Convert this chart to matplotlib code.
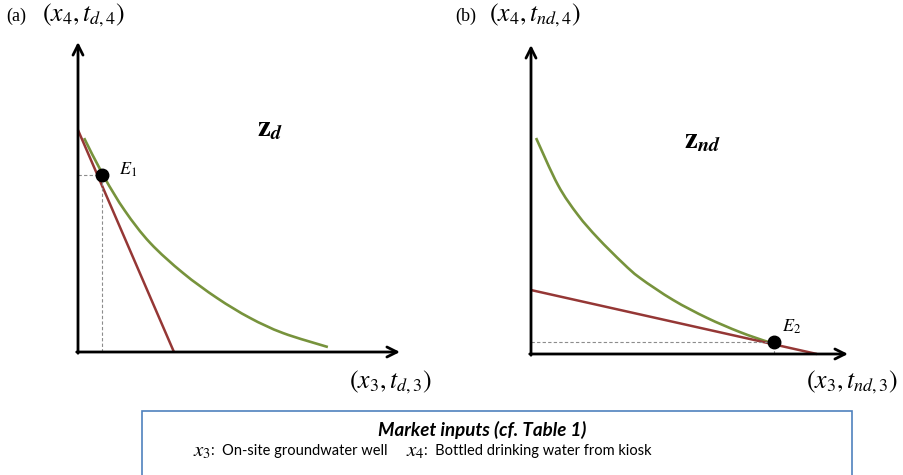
import matplotlib
matplotlib.use("Agg")
import matplotlib.pyplot as plt
from matplotlib.patches import Rectangle, PathPatch
from matplotlib.path import Path

# panel (a): dependent choice z_d
iso_a_x = [0.19, 0.81, 1.46, 2.24, 3.26, 4.32, 5.34, 6.37, 7.76]
iso_a_y = [6.90, 5.65, 4.55, 3.52, 2.55, 1.74, 1.10, 0.61, 0.16]
budget_a_x = [0.0, 2.98]
budget_a_y = [7.16, 0.0]
e1 = (0.75, 5.70)

# panel (b): non-dependent choice z_nd
iso_b_x = [0.16, 0.85, 1.48, 2.11, 2.90, 3.44, 4.48, 5.55, 6.59, 7.48, 7.67]
iso_b_y = [6.99, 5.47, 4.50, 3.75, 2.94, 2.46, 1.75, 1.17, 0.71, 0.39, 0.36]
budget_b_x = [0.0, 9.02]
budget_b_y = [2.07, 0.0]
e2 = (7.67, 0.38)

GREEN = "#77933C"
RED = "#953735"
GREY = "#8c8c8c"

plt.rcParams["mathtext.fontset"] = "stix"

W, H = 904, 475
fig = plt.figure(figsize=(W / 100, H / 100), dpi=100)


def px(x, y):
    return x / W, 1 - y / H


def smooth_path(xs, ys):
    # catmull-rom through the read points, as bezier segments
    pts = list(zip(xs, ys))
    verts = [pts[0]]
    codes = [Path.MOVETO]
    for i in range(len(pts) - 1):
        p0 = pts[i - 1] if i > 0 else pts[i]
        p1 = pts[i]
        p2 = pts[i + 1]
        p3 = pts[i + 2] if i + 2 < len(pts) else pts[i + 1]
        c1 = (p1[0] + (p2[0] - p0[0]) / 6, p1[1] + (p2[1] - p0[1]) / 6)
        c2 = (p2[0] - (p3[0] - p1[0]) / 6, p2[1] - (p3[1] - p1[1]) / 6)
        verts += [c1, c2, p2]
        codes += [Path.CURVE4] * 3
    return Path(verts, codes)


def panel(rect, iso_x, iso_y, bx, by, pt):
    ax = fig.add_axes(rect)
    ax.set_xlim(0, 10)
    ax.set_ylim(0, 10)
    ax.axis("off")
    ax.plot(bx, by, color=RED, lw=1.8, clip_on=False, solid_capstyle="butt")
    ax.add_patch(PathPatch(smooth_path(iso_x, iso_y), fill=False, edgecolor=GREEN,
                           lw=1.9, clip_on=False, capstyle="butt"))
    ax.plot([0, pt[0]], [pt[1], pt[1]], color=GREY, lw=0.8, ls=(0, (3, 2)), clip_on=False)
    ax.plot([pt[0], pt[0]], [0, pt[1]], color=GREY, lw=0.8, ls=(0, (3, 2)), clip_on=False)
    ax.plot([pt[0]], [pt[1]], "o", color="black", ms=9, clip_on=False, zorder=5)
    arrow = dict(arrowstyle="->", lw=2, color="black", mutation_scale=18, shrinkA=0, shrinkB=0)
    ax.annotate("", xy=(10, 0), xytext=(-0.04, 0), arrowprops=arrow, annotation_clip=False)
    ax.annotate("", xy=(0, 10), xytext=(0, -0.04), arrowprops=arrow, annotation_clip=False)
    return ax


ax_a = panel([78 / W, 1 - 352 / H, 322 / W, 310 / H],
             iso_a_x, iso_a_y, budget_a_x, budget_a_y, e1)
ax_b = panel([531 / W, 1 - 354 / H, 317 / W, 309 / H],
             iso_b_x, iso_b_y, budget_b_x, budget_b_y, e2)

serif = "Liberation Serif"
fig.text(*px(6, 16), "(a)", fontsize=13, family=serif, va="center")
fig.text(*px(42, 15), r"$(x_4,t_{d,4})$", fontsize=18.5, va="center")
fig.text(*px(455, 16), "(b)", fontsize=13, family=serif, va="center")
fig.text(*px(489, 15), r"$(x_4,t_{nd,4})$", fontsize=18.5, va="center")
fig.text(*px(349, 382), r"$(x_3,t_{d,3})$", fontsize=18.5, va="center")
fig.text(*px(806, 382), r"$(x_3,t_{nd,3})$", fontsize=18.5, va="center")
fig.text(*px(119, 170), r"$E_1$", fontsize=13, va="center")
fig.text(*px(782, 327), r"$E_2$", fontsize=13, va="center")
fig.text(*px(270, 128), r"$\mathbf{z}_{\boldsymbol{d}}$", fontsize=21, ha="center", va="center")
fig.text(*px(703, 140), r"$\mathbf{z}_{\boldsymbol{nd}}$", fontsize=21, ha="center", va="center")

box = Rectangle(px(142, 480), 710 / W, 69 / H, transform=fig.transFigure,
                fill=False, edgecolor="#4F81BD", lw=1.2, clip_on=False)
fig.patches.append(box)
fig.text(*px(482, 430), "Market inputs (cf. Table 1)", fontsize=13.5, family="Lato",
         weight="bold", style="italic", ha="center", va="center")

# second line: math symbols a bit larger than the words, laid out left to right
pieces = [(r"$x_3$", 15, 0), (":  On-site groundwater well", 10.5, 18),
          (r"$x_4$", 15, 0), (":  Bottled drinking water from kiosk", 10.5, 0)]
renderer = fig.canvas.get_renderer()
x = 193
for s, fs, gap in pieces:
    t = fig.text(*px(x, 451), s, fontsize=fs, family="Lato", ha="left", va="center")
    x += t.get_window_extent(renderer).width + gap

fig.savefig("out.png", dpi=100)
